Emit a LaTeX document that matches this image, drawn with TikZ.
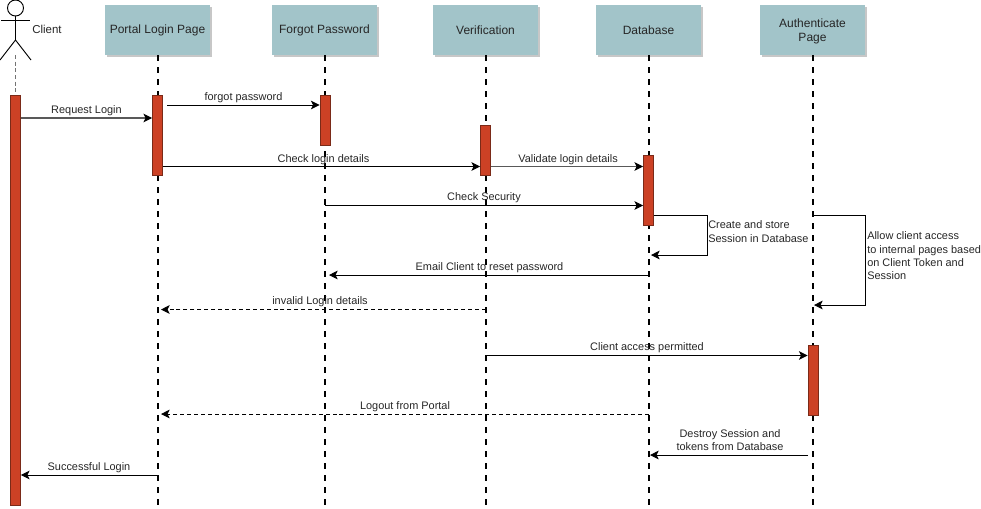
\documentclass[tikz,border=0pt]{standalone}
\usepackage{fontspec}
\setmainfont{Liberation Sans}
\usetikzlibrary{arrows.meta,shadows}
\definecolor{boxteal}{HTML}{A2C4C9}
\definecolor{barred}{HTML}{CC4125}
\definecolor{barline}{HTML}{7A2A18}
\tikzset{
  pagebox/.style={fill=boxteal, minimum width=78.75pt, minimum height=37.5pt, align=center, inner sep=1pt, font=\fontsize{9}{10.5}\selectfont, text=black!85,
    drop shadow={shadow xshift=1.5pt, shadow yshift=-1.5pt, fill=black!22, opacity=1}},
  bar/.style={draw=barline, fill=barred, line width=0.6pt, minimum width=7.5pt, inner sep=0pt},
  lifeline/.style={line width=1.5pt, dash pattern=on 4.5pt off 4.5pt},
  msg/.style={-{Stealth[length=6.5pt,width=6.5pt,inset=1.6pt,black]}, line width=0.7pt},
  greymsg/.style={msg, black!65, line width=0.9pt},
  reply/.style={msg, dash pattern=on 3pt off 2.2pt},
  lbl/.style={font=\fontsize{8.2}{10}\selectfont, text=black!85, inner sep=0pt},
  note/.style={lbl, align=left, anchor=north west}
}
\begin{document}
\begin{tikzpicture}[x=0.75pt, y=-0.75pt]
  \useasboundingbox (0,0) rectangle (981,508);
  \coordinate (bottom) at (0,505);

  % actor
  \node[draw, circle, minimum size=12pt, inner sep=0pt, line width=0.7pt] (head) at (15.5,8) {};
  \coordinate (hip) at (15.5,40);
  \coordinate (armL) at (1,20);
  \coordinate (armR) at (30,20);
  \coordinate (legL) at (0,60);
  \coordinate (legR) at (31,60);
  \draw[line width=0.7pt] (head.south) -- (hip);
  \draw[line width=0.7pt] (armL) -- (armR);
  \draw[line width=0.7pt] (legL) -- (hip) -- (legR);
  \node[lbl, font=\fontsize{8.6}{10}\selectfont] (clientlbl) at (47,29.5) {Client};

  % header boxes
  \node[pagebox] (portal) at (157.5,30) {\raisebox{-0.7pt}{Portal Login Page}};
  \node[pagebox] (forgot) at (324.5,30) {\raisebox{-0.7pt}{Forgot Password}};
  \node[pagebox] (verify) at (485.5,30) {\raisebox{-0.7pt}{Verification}};
  \node[pagebox] (dbase) at (648.5,30) {\raisebox{-0.7pt}{Database}};
  \node[pagebox, text depth=-1.5pt] (auth) at (812.5,30) {Authenticate\\Page};

  % lifelines
  \draw[dash pattern=on 3pt off 2pt, black!55, line width=0.7pt] (15.5,55) -- (15.5,95);
  \draw[lifeline] (portal.south) -- (portal.south |- bottom);
  \draw[lifeline] (forgot.south) -- (forgot.south |- bottom);
  \draw[lifeline] (verify.south) -- (verify.south |- bottom);
  \draw[lifeline] (dbase.south) -- (dbase.south |- bottom);
  \draw[lifeline] (auth.south) -- (auth.south |- bottom);

  % activation bars
  \node[bar, minimum height=307.5pt] (clientbar) at (15.5,300) {};
  \node[bar, minimum height=60pt] (portalbar) at (157.5,135) {};
  \node[bar, minimum height=37.5pt] (forgotbar) at (325,120) {};
  \node[bar, minimum height=37.5pt] (verifybar) at (485.5,150) {};
  \node[bar, minimum height=52.5pt] (dbasebar) at (648.5,190) {};
  \node[bar, minimum height=52.5pt] (authbar) at (813,380) {};

  % messages
  \coordinate (forgotA) at (167,105);
  \coordinate (checkA) at (163,166.5);
  \coordinate (secA) at (325,205.5);
  \coordinate (storeA) at (654,215);
  \coordinate (storeB) at (707,215);
  \coordinate (storeC) at (707,255);
  \coordinate (storeD) at (651,255);
  \coordinate (allowA) at (813,215);
  \coordinate (allowB) at (865,215);
  \coordinate (allowC) at (865,305);
  \coordinate (allowD) at (814,305);
  \coordinate (emailA) at (648.5,275);
  \coordinate (emailB) at (329,275);
  \coordinate (badA) at (485.5,309.5);
  \coordinate (badB) at (161,309.5);
  \coordinate (permitA) at (486,355.5);
  \coordinate (outA) at (648.5,414);
  \coordinate (outB) at (161,414);
  \coordinate (killA) at (808,455);
  \coordinate (killB) at (650,455);
  \coordinate (okA) at (157.5,475);
  \coordinate (reqA) at (0,118);

  \draw[greymsg] (clientbar.east |- reqA) -- (portalbar.west |- reqA);
  \draw[msg] (forgotA) -- (forgotbar.west |- forgotA);
  \draw[msg] (checkA) -- (verifybar.west |- checkA);
  \draw[greymsg] (verifybar.east |- checkA) -- (dbasebar.west |- checkA);
  \draw[msg] (secA) -- (dbasebar.west |- secA);
  \draw[msg] (storeA) -- (storeB) -- (storeC) -- (storeD);
  \draw[msg] (allowA) -- (allowB) -- (allowC) -- (allowD);
  \draw[msg] (emailA) -- (emailB);
  \draw[reply] (badA) -- (badB);
  \draw[msg] (permitA) -- (authbar.west |- permitA);
  \draw[reply] (outA) -- (outB);
  \draw[msg] (killA) -- (killB);
  \draw[msg] (okA) -- (clientbar.east |- okA);

  % labels
  \node[lbl] (reqlbl) at (86.5,110.5) {Request Login};
  \node[lbl] (forgotlbl) at (243.5,97.5) {forgot password};
  \node[lbl] (checklbl) at (323.5,159.5) {Check login details};
  \node[lbl] (validlbl) at (568,159.5) {Validate login details};
  \node[lbl] (seclbl) at (484,197.5) {Check Security};
  \node[note, font=\fontsize{8.2}{11}\selectfont] (storelbl) at (708,220) {Create and store\\Session in Database};
  \node[note] (allowlbl) at (867,231.5) {Allow client access\\to internal pages based\\on Client Token and\\Session};
  \node[lbl] (emaillbl) at (489.5,267.5) {Email Client to reset password};
  \node[lbl] (badlbl) at (320,301.5) {invalid Login details};
  \node[lbl] (permitlbl) at (647,347.5) {Client access permitted};
  \node[lbl] (outlbl) at (405,406.5) {Logout from Portal};
  \node[lbl, align=center] (killlbl) at (730,440) {Destroy Session and\\tokens from Database};
  \node[lbl] (oklbl) at (89,467.5) {Successful Login};
\end{tikzpicture}
\end{document}
